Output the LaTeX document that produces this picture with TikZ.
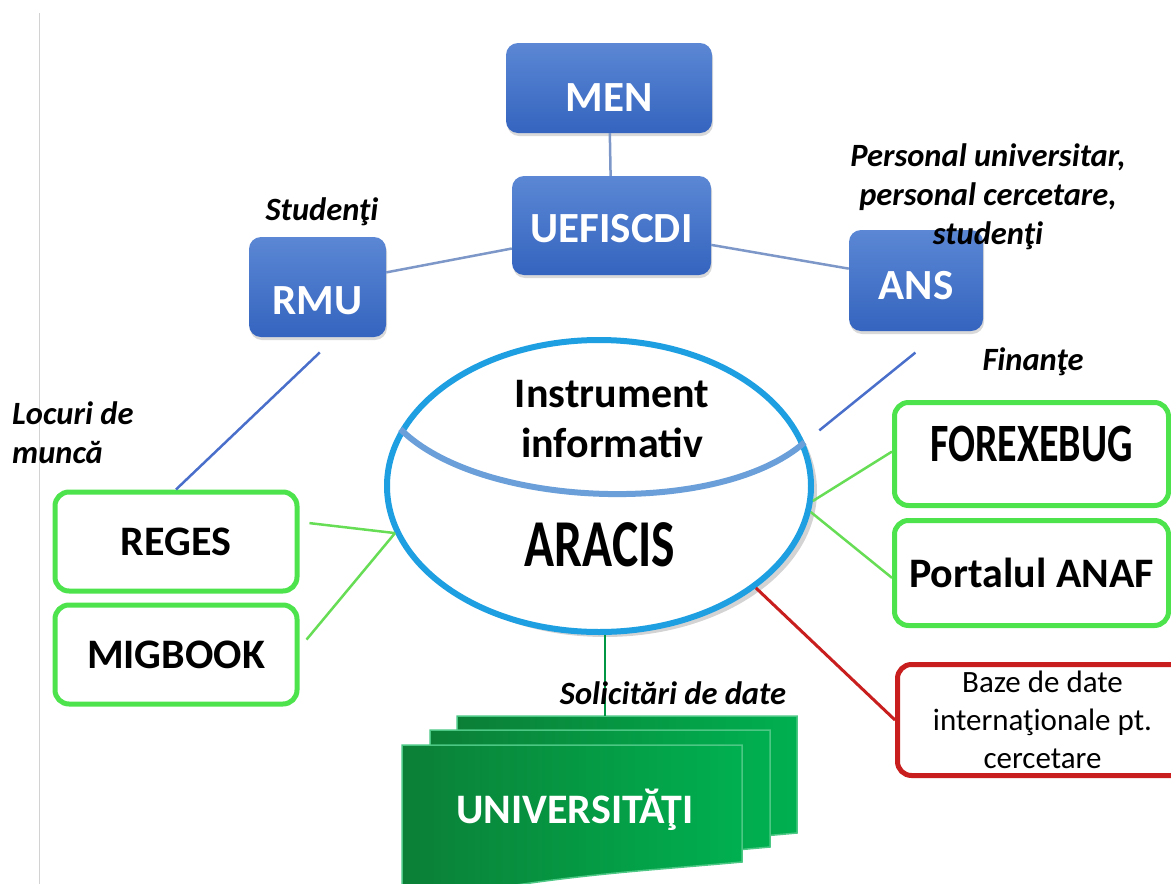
\documentclass[tikz,border=0pt]{standalone}
\usepackage{fontspec}
\setmainfont{Carlito}
\usetikzlibrary{calc,shapes.geometric,shadows}
\definecolor{boxtop}{HTML}{5B87D4}
\definecolor{boxbottom}{HTML}{3464BF}
\definecolor{linkblue}{HTML}{7D98C8}
\definecolor{deepblue}{HTML}{4A6FCB}
\definecolor{lightgreen}{HTML}{4CE34C}
\definecolor{linkgreen}{HTML}{66DD55}
\definecolor{ringblue}{HTML}{1E9FE2}
\definecolor{arcblue}{HTML}{6A9FDA}
\definecolor{boxred}{HTML}{C81E1E}
\definecolor{sheetdark}{HTML}{0B7F36}
\definecolor{sheetlight}{HTML}{00B050}
\def\Size#1#2{\fontsize{#1}{#2}\selectfont}

\begin{document}
\begin{tikzpicture}[x=1pt, y=-1pt,
  blue box/.style={rounded corners=12pt, top color=boxtop, bottom color=boxbottom,
     draw=none, text=white, font=\bfseries\Size{43}{50},
     drop shadow={opacity=0.3, shadow xshift=1pt, shadow yshift=-3pt}},
  green box/.style={draw=lightgreen, line width=5pt, rounded corners=14pt,
     fill=white, font=\bfseries\Size{42}{50}},
  red box/.style={draw=boxred, line width=5pt, rounded corners=14pt,
     fill=white, font=\Size{31}{38}, align=center},
  note/.style={font=\bfseries\itshape\Size{32.5}{39}, inner sep=0pt},
  link blue/.style={draw=linkblue, line width=2.5pt},
  link deep/.style={draw=deepblue, line width=2.5pt},
  link green/.style={draw=linkgreen, line width=2.5pt},
  link red/.style={draw=boxred, line width=3pt},
  sheet/.style={left color=sheetdark, right color=sheetlight, draw=sheetlight!70!white, line width=1.5pt}
  ]
\useasboundingbox (0,0) rectangle (1171,884);
\draw[gray!35, line width=1pt] (39,13) -- (39,884);

\node[blue box, minimum width=206pt, minimum height=90pt, text height=47pt] (men) at (609,88) {MEN};
\node[blue box, minimum width=199pt, minimum height=99pt, text height=35pt] (uef) at (611.5,225.5) {UEFISCDI};
\node[blue box, minimum width=137pt, minimum height=100pt, text height=56pt] (rmu) at (317.5,287) {RMU};
\node[blue box, minimum width=134pt, minimum height=101pt, text height=38pt] (ans) at (916,280.5) {ANS};

\node[ellipse, draw=ringblue, line width=6pt, fill=white, minimum width=424pt, minimum height=292pt,
  drop shadow={opacity=0.35, shadow xshift=6pt, shadow yshift=-5pt}] (aracis) at (599,486) {};
\draw[arcblue, line width=6pt] (aracis.164) .. controls +(80,80) and +(-85,75) .. (aracis.12);
\node[font=\bfseries\Size{42}{50}, align=center] (instr) at (612,419) {Instrument\\informativ};
\node[font=\bfseries\Size{67}{70}] (aracislbl) at (600,545) {\scalebox{0.74}[1]{ARACIS}};

\node[green box, minimum width=242pt, minimum height=99pt] (reges) at (176,541.5) {REGES};
\node[green box, minimum width=242pt, minimum height=99pt] (migbook) at (176,654.5) {MIGBOOK};
\node[green box, minimum width=274pt, minimum height=103pt, text height=35pt, text depth=20pt] (forex) at (1031.5,454) {\Size{54}{60}\scalebox{0.74}[1]{FOREXEBUG}};
\node[green box, minimum width=274pt, minimum height=105pt] (anaf) at (1031.5,573) {Portalul ANAF};
\node[red box, minimum width=290pt, minimum height=111pt] (baze) at (1042.5,720) {Baze de date\\internaţionale pt.\\cercetare};

\foreach \dx/\dy in {55/-29,28/-15,0/0}
  \filldraw[sheet] (402+\dx,745+\dy) -- ++(340,0) -- ++(0,117)
     .. controls +(-110,10) and +(150,-30) .. (402+\dx,905+\dy) -- cycle;
\coordinate (univtop) at (605,716);
\node[font=\bfseries\Size{42}{50}, text=white] (univ) at (575,810) {UNIVERSITĂŢI};

\draw[link blue] (men) -- (uef);
\draw[link blue] (rmu.12) -- (uef.193);
\draw[link blue] (uef.-11) -- (ans.170);
\draw[link deep, shorten <=22pt] (rmu.-70) -- (reges.north);
\draw[link deep, shorten <=34pt, shorten >=19pt] (ans.-63) -- (aracis.12);
\draw[link green, shorten <=10pt] (reges.9) -- (aracis.193);
\draw[link green, shorten <=11pt] (migbook.3) -- (aracis.193);
\draw[link green] (aracis.-4) -- (forex.179);
\draw[link green] (aracis.-7) -- (anaf.182);
\draw[link red] (aracis.-33) -- (baze.west);
\draw[draw=sheetlight!85!black, line width=2pt] (aracis.south -| univtop) -- (univtop);

\node[note] (studenti) at (322,212) {Studenţi};
\node[note, align=center] (personal) at (988,197) {Personal universitar,\\personal cercetare,\\studenţi};
\node[note] (finante) at (1033,362) {Finanţe};
\node[note, align=left, anchor=west] (locuri) at (12,433) {Locuri de\\muncă};
\node[note] (solicitari) at (673,693) {Solicitări de date};
\end{tikzpicture}
\end{document}
